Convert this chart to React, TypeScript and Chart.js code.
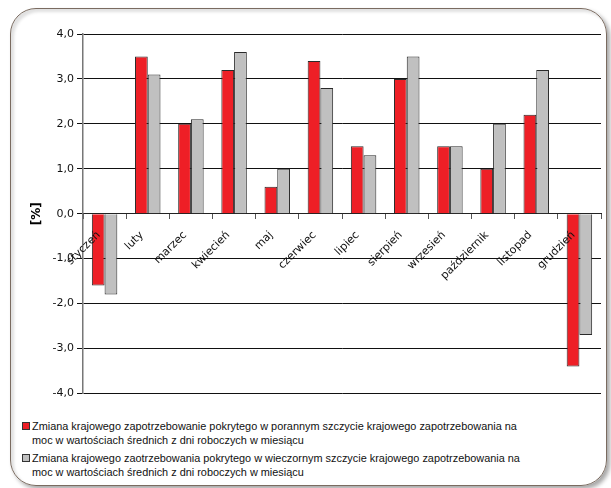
import { Chart, registerables } from 'chart.js';
import { useEffect, useRef } from 'react';

Chart.register(...registerables);

const months = [
  'styczeń',
  'luty',
  'marzec',
  'kwiecień',
  'maj',
  'czerwiec',
  'lipiec',
  'sierpień',
  'wrzesień',
  'październik',
  'listopad',
  'grudzień',
];

const morningPeak = [-1.6, 3.5, 2.0, 3.2, 0.6, 3.4, 1.5, 3.0, 1.5, 1.0, 2.2, -3.4];
const eveningPeak = [-1.8, 3.1, 2.1, 3.6, 1.0, 2.8, 1.3, 3.5, 1.5, 2.0, 3.2, -2.7];

const morningLabel =
  'Zmiana krajowego zapotrzebowanie pokrytego w porannym szczycie krajowego zapotrzebowania na moc w wartościach średnich z dni roboczych w miesiącu';
const eveningLabel =
  'Zmiana krajowego zaotrzebowania pokrytego w wieczornym szczycie krajowego zapotrzebowania na moc w wartościach średnich z dni roboczych w miesiącu';

const legendLines = [
  [
    'Zmiana krajowego zapotrzebowanie pokrytego w porannym szczycie krajowego zapotrzebowania na',
    'moc w wartościach średnich z dni roboczych w miesiącu',
  ],
  [
    'Zmiana krajowego zaotrzebowania pokrytego w wieczornym szczycie krajowego zapotrzebowania na',
    'moc w wartościach średnich z dni roboczych w miesiącu',
  ],
];

const RED = '#ee1f26';
const GRAY = '#c0c0c0';
const colors = [RED, GRAY];

export default function App() {
  const canvasRef = useRef<HTMLCanvasElement>(null);

  useEffect(() => {
    if (!canvasRef.current) return;
    const chart = new Chart(canvasRef.current, {
      type: 'bar',
      data: {
        labels: months,
        datasets: [
          {
            label: morningLabel,
            data: morningPeak,
            backgroundColor: RED,
            borderColor: '#2a2a2a',
            borderWidth: 1,
            categoryPercentage: 0.59,
            barPercentage: 1.0,
          },
          {
            label: eveningLabel,
            data: eveningPeak,
            backgroundColor: GRAY,
            borderColor: '#2a2a2a',
            borderWidth: 1,
            categoryPercentage: 0.59,
            barPercentage: 1.0,
          },
        ],
      },
      options: {
        animation: false,
        responsive: true,
        maintainAspectRatio: false,
        layout: { padding: { left: 0, right: 10, top: 34, bottom: 1 } },
        plugins: {
          legend: { display: false },
          tooltip: { enabled: false },
        },
        scales: {
          x: {
            position: { y: 0 },
            grid: {
              drawOnChartArea: false,
              drawTicks: true,
              tickLength: 5,
              color: '#555',
            },
            border: { color: '#222', width: 1 },
            ticks: {
              z: 1,
              minRotation: 45,
              maxRotation: 45,
              autoSkip: false,
              padding: 10,
              labelOffset: -6,
              color: '#111',
              font: { family: 'DejaVu Sans', size: 11 },
            },
          },
          y: {
            min: -4,
            max: 4,
            afterFit: (scale) => {
              scale.width = 83;
            },
            ticks: {
              stepSize: 1,
              padding: 3,
              color: '#111',
              font: { family: 'DejaVu Sans', size: 11 },
              callback: (v) => Number(v).toFixed(1).replace('.', ','),
            },
            grid: {
              color: '#111',
              lineWidth: 1,
              tickLength: 6,
            },
            border: { color: '#777', width: 1.5 },
            title: {
              display: true,
              text: '[%]',
              color: '#000',
              font: { family: 'DejaVu Sans', size: 12, weight: 'bold' },
              padding: { top: 30, bottom: 0 },
            },
          },
        },
      },
    });
    return () => {
      chart.destroy();
    };
  }, []);

  return (
    <div
      style={{
        position: 'fixed',
        left: 0,
        top: 0,
        width: 611,
        height: 488,
        background: '#fff',
        overflow: 'hidden',
      }}
    >
      <div
        style={{
          position: 'absolute',
          left: 10,
          top: 8,
          width: 595,
          height: 476,
          border: '1.5px solid #7a6b60',
          borderRadius: 26,
          boxShadow:
            '3px 3px 4px rgba(0,0,0,0.35), inset 3px 3px 3px rgba(0,0,0,0.12)',
        }}
      />
      <div
        style={{
          position: 'absolute',
          left: 0,
          top: 0,
          width: 611,
          height: 403,
        }}
      >
        <canvas ref={canvasRef} />
      </div>
      <div
        style={{
          position: 'absolute',
          left: 22,
          top: 419,
          fontFamily: 'Liberation Sans',
          fontSize: 10.9,
          lineHeight: '14px',
          color: '#111',
        }}
      >
        {legendLines.map((lines, i) => (
          <div key={i} style={{ position: 'relative', marginBottom: 4 }}>
            <span
              style={{
                position: 'absolute',
                left: 0,
                top: 3,
                width: 6,
                height: 6,
                background: colors[i],
                border: '1px solid #333',
              }}
            />
            <div style={{ marginLeft: 10, whiteSpace: 'nowrap' }}>
              {lines.map((l, j) => (
                <div key={j}>{l}</div>
              ))}
            </div>
          </div>
        ))}
      </div>
    </div>
  );
}
